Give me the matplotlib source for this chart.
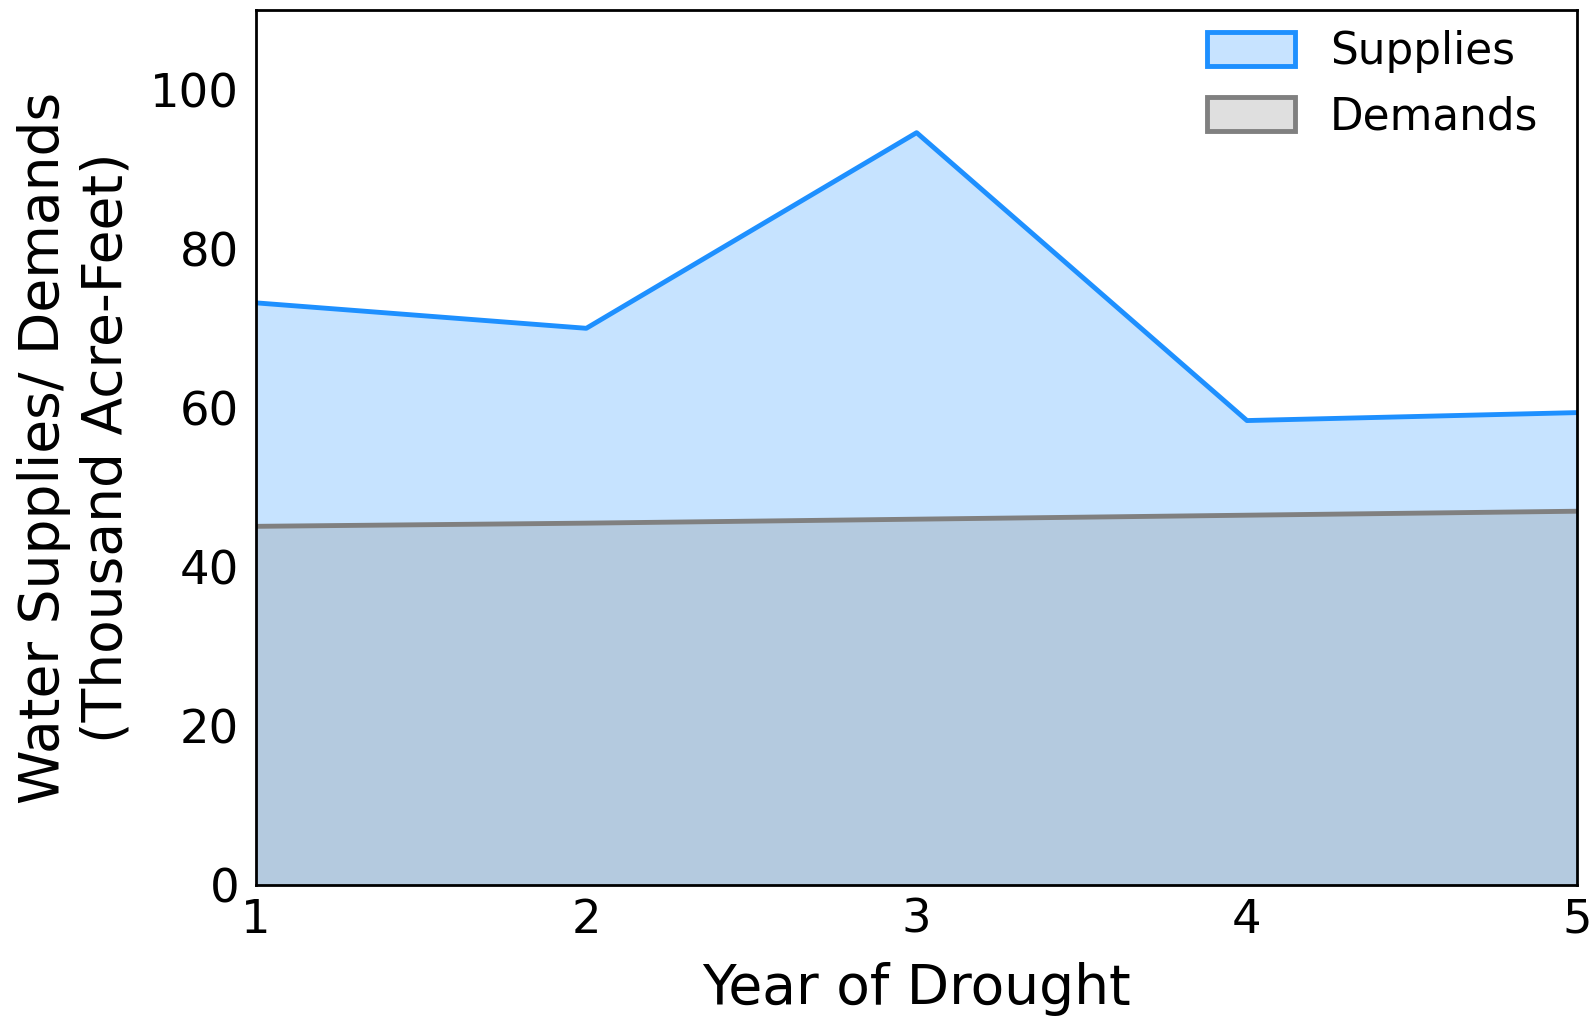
import matplotlib.pyplot as plt
from matplotlib.patches import Patch

# Data
years = [1, 2, 3, 4, 5]
supplies = [73.2, 70.0, 94.6, 58.4, 59.4]
demands = [45.1, 45.5, 46.0, 46.5, 47.0]

fig = plt.figure(figsize=(15.9, 10.19), dpi=100)
ax = fig.add_axes([0.161, 0.1315, 0.831, 0.8585])

ax.fill_between(years, 0, supplies, color="dodgerblue", alpha=0.25, lw=0)
ax.plot(years, supplies, color="dodgerblue", lw=3.5)
ax.fill_between(years, 0, demands, color="gray", alpha=0.25, lw=0)
ax.plot(years, demands, color="gray", lw=3.5)

ax.set_xlim(1, 5)
ax.set_ylim(0, 110)
ax.set_xticks(years)
ax.set_yticks([0, 20, 40, 60, 80, 100])
ax.tick_params(axis="both", length=0, labelsize=33.5)
ax.tick_params(axis="x", pad=9)
ax.tick_params(axis="y", pad=12)
for s in ax.spines.values():
    s.set_linewidth(2)

ax.set_xlabel("Year of Drought", fontsize=39.7, labelpad=14)
ax.set_ylabel("Water Supplies/ Demands\n(Thousand Acre-Feet)", fontsize=39.7,
              labelpad=12)

handles = [
    Patch(facecolor="#C7E3FF", edgecolor="dodgerblue", lw=3.5, label="Supplies"),
    Patch(facecolor="#DFDFDF", edgecolor="gray", lw=3.5, label="Demands"),
]
ax.legend(handles=handles, loc="upper right", bbox_to_anchor=(0.987, 1.002),
          frameon=False, fontsize=31.5, labelspacing=0.5, handleheight=0.8,
          handletextpad=0.8, borderaxespad=0.1)

fig.savefig("out.png", dpi=100)
